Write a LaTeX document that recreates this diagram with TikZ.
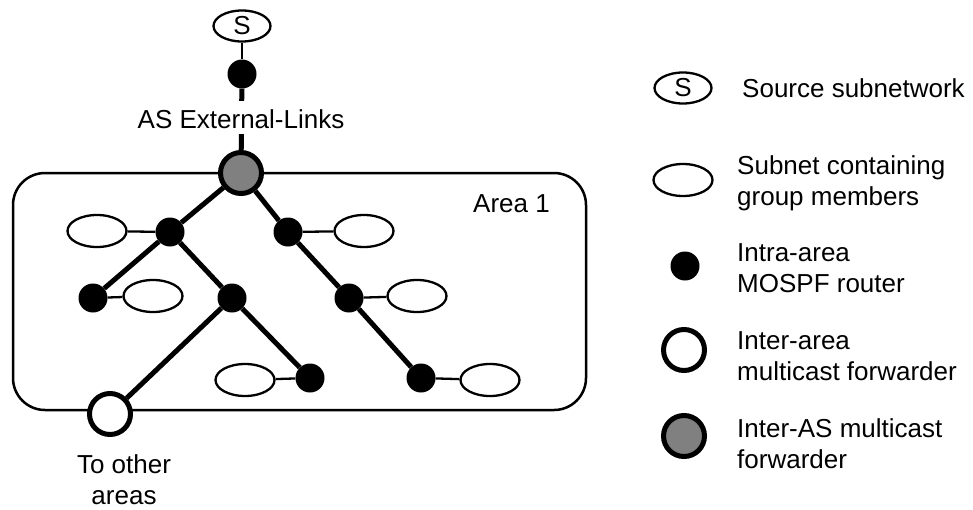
\documentclass[tikz,border=0pt]{standalone}
\usepackage{fontspec}
\setmainfont{Liberation Sans}
\usetikzlibrary{shapes.geometric,backgrounds}
\definecolor{fwdgray}{RGB}{128,128,128}
\begin{document}
\begin{tikzpicture}[x=1pt,y=-1pt,
  font=\fontsize{26}{31}\selectfont,
  txt/.style={inner sep=0pt},
  srcnet/.style={ellipse,draw,line width=2.3pt,inner sep=0pt,minimum width=57pt,minimum height=31pt},
  subnet/.style={ellipse,draw,line width=2.3pt,inner sep=0pt,minimum width=59pt,minimum height=32pt},
  dot/.style={circle,fill=black,inner sep=0pt,minimum size=29pt},
  areafwd/.style={circle,draw,line width=5pt,fill=white,inner sep=0pt,minimum size=41pt},
  asfwd/.style={circle,draw,line width=5pt,fill=fwdgray,inner sep=0pt,minimum size=41pt},
  tree/.style={line width=5pt},
  link/.style={line width=2.3pt},
  areabox/.style={draw,line width=2.5pt,rounded corners=32pt,inner sep=0pt,minimum width=573pt,minimum height=237pt}
]
\useasboundingbox (0,0) rectangle (973,509);

% area
\node[areabox] (area) at (299.5,291.5) {};
\node[txt,anchor=base west] (a1) at (473,212) {Area 1};

% top
\node[srcnet] (S) at (242,26) {S};
\node[dot] (t0) at (242,74) {};
\node[asfwd] (g0) at (241,173) {};

% routers
\node[dot] (A) at (170,232) {};
\node[dot] (B) at (288,232) {};
\node[dot] (C) at (93,298) {};
\node[dot] (D) at (232,298) {};
\node[dot] (E) at (349,298) {};
\node[dot] (F) at (310,378) {};
\node[dot] (G) at (421,378) {};
\node[areafwd] (H) at (110,414) {};

% subnets
\node[subnet] (eA) at (97,231) {};
\node[subnet] (eB) at (364,231) {};
\node[subnet] (eC) at (153,296) {};
\node[subnet] (eE) at (417,296) {};
\node[subnet] (eF) at (245,380) {};
\node[subnet] (eG) at (490,380) {};

\begin{scope}[on background layer]
  \draw[link] (S) -- (t0);
  \draw[tree] (t0) -- (g0);
  \draw[tree] (g0) -- (A);
  \draw[tree] (g0) -- (B);
  \draw[tree] (A) -- (C);
  \draw[tree] (A) -- (D);
  \draw[tree] (D) -- (F);
  \draw[tree] (D) -- (H);
  \draw[tree] (B) -- (E);
  \draw[tree] (E) -- (G);
  \draw[link] (A) -- (eA);
  \draw[link] (B) -- (eB);
  \draw[link] (C) -- (eC);
  \draw[link] (E) -- (eE);
  \draw[link] (F) -- (eF);
  \draw[link] (G) -- (eG);
\end{scope}

\node[anchor=base,fill=white,inner xsep=2pt,inner ysep=6pt,text height=21pt,text depth=0pt] (ext) at (241,128) {AS External-Links};
\node[txt,anchor=base,align=center] (toa) at (124,504) {To other\\areas};

% legend
\node[srcnet] (lS) at (683,88) {S};
\node[txt,anchor=base west] (lSt) at (742,97) {Source subnetwork};
\node[subnet] (lE) at (683,180) {};
\node[txt,anchor=base west,align=left] (lEt) at (737,205) {Subnet containing\\group members};
\node[dot] (lD) at (685,266) {};
\node[txt,anchor=base west,align=left] (lDt) at (737,292) {Intra-area\\MOSPF router};
\node[areafwd] (lW) at (684,350) {};
\node[txt,anchor=base west,align=left] (lWt) at (737,380) {Inter-area\\multicast forwarder};
\node[asfwd] (lG) at (684,436) {};
\node[txt,anchor=base west,align=left] (lGt) at (737,468) {Inter-AS multicast\\forwarder};
\end{tikzpicture}
\end{document}
